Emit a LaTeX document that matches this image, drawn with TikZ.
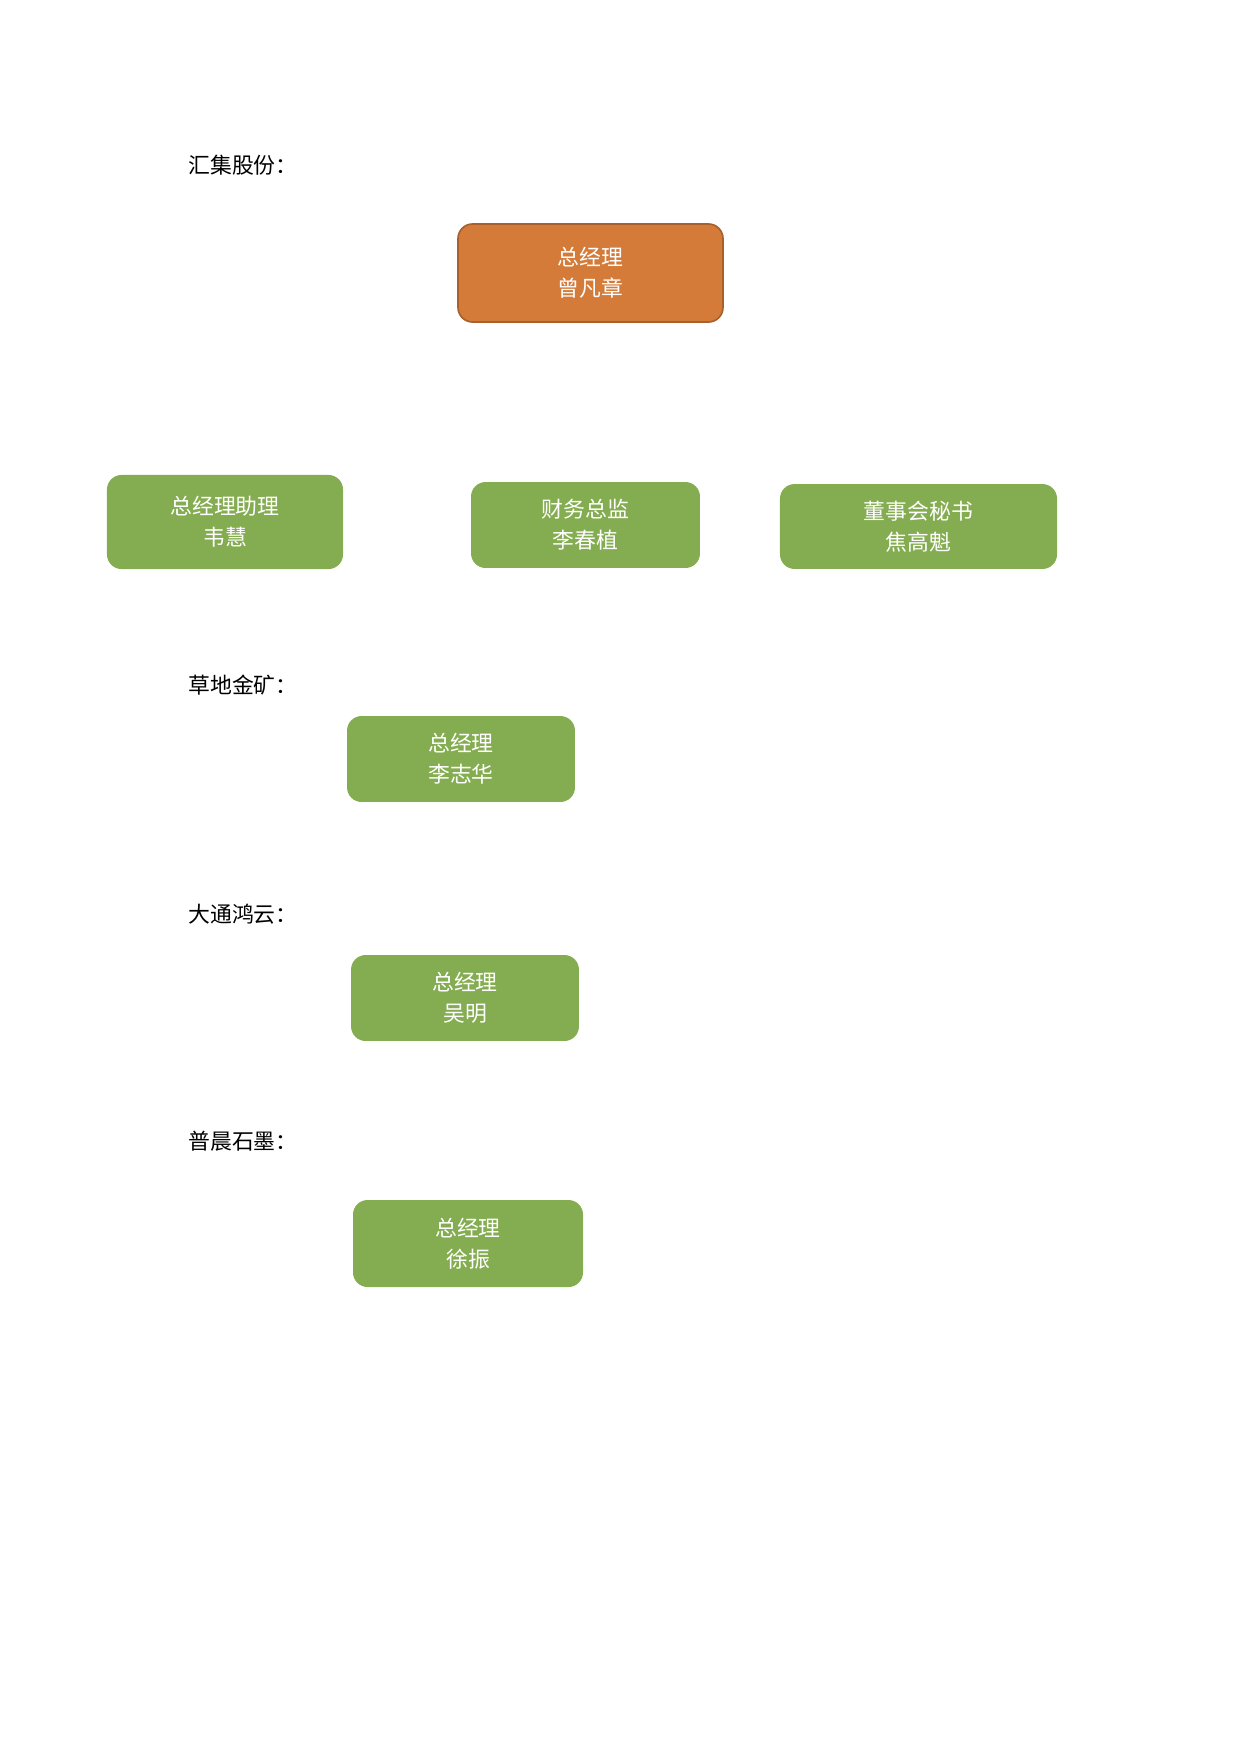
\documentclass[tikz,border=0pt]{standalone}
\usepackage{fontspec}
\setmainfont{Noto Sans CJK SC}
\usepackage{tikz}
\usetikzlibrary{positioning}
\definecolor{boxorange}{HTML}{D47B39}
\definecolor{edgeorange}{HTML}{A8602C}
\definecolor{boxgreen}{HTML}{84AC50}
\tikzset{
  post/.style={rounded corners=7pt, align=center, text=white,
    font=\fontsize{10.5}{15}\selectfont, inner sep=0pt},
  topbox/.style={post, fill=boxorange, draw=edgeorange, line width=0.8pt},
  unitbox/.style={post, fill=boxgreen},
  company/.style={anchor=west, inner sep=0pt, font=\fontsize{10.5}{13}\selectfont}
}
\begin{document}
\begin{tikzpicture}[x=0.48045pt, y=-0.48045pt]
  \useasboundingbox (0,0) rectangle (1239,1754);
  % group head office
  \node[company] (hj) at (188,165) {汇集股份：};
  \node[topbox, minimum width=127.3pt, minimum height=47.1pt] (gm) at (590.5,273) {总经理\\曾凡章};
  \node[unitbox, minimum width=113.4pt, minimum height=45.2pt] (asst) at (225,522) {总经理助理\\韦慧};
  \node[unitbox, minimum width=110pt, minimum height=41.3pt] (cfo) at (585.5,525) {财务总监\\李春植};
  \node[unitbox, minimum width=133.1pt, minimum height=40.8pt] (sec) at (918.5,526.5) {董事会秘书\\焦高魁};
  % subsidiaries
  \node[company] (cd) at (188,685) {草地金矿：};
  \node[unitbox, minimum width=109.5pt, minimum height=41.3pt] (cdgm) at (461,759) {总经理\\李志华};
  \node[company] (dt) at (188,914) {大通鸿云：};
  \node[unitbox, minimum width=109.5pt, minimum height=41.3pt] (dtgm) at (465,998) {总经理\\吴明};
  \node[company] (pc) at (188,1141) {普晨石墨：};
  \node[unitbox, minimum width=110.5pt, minimum height=41.8pt] (pcgm) at (468,1243.5) {总经理\\徐振};
\end{tikzpicture}
\end{document}
